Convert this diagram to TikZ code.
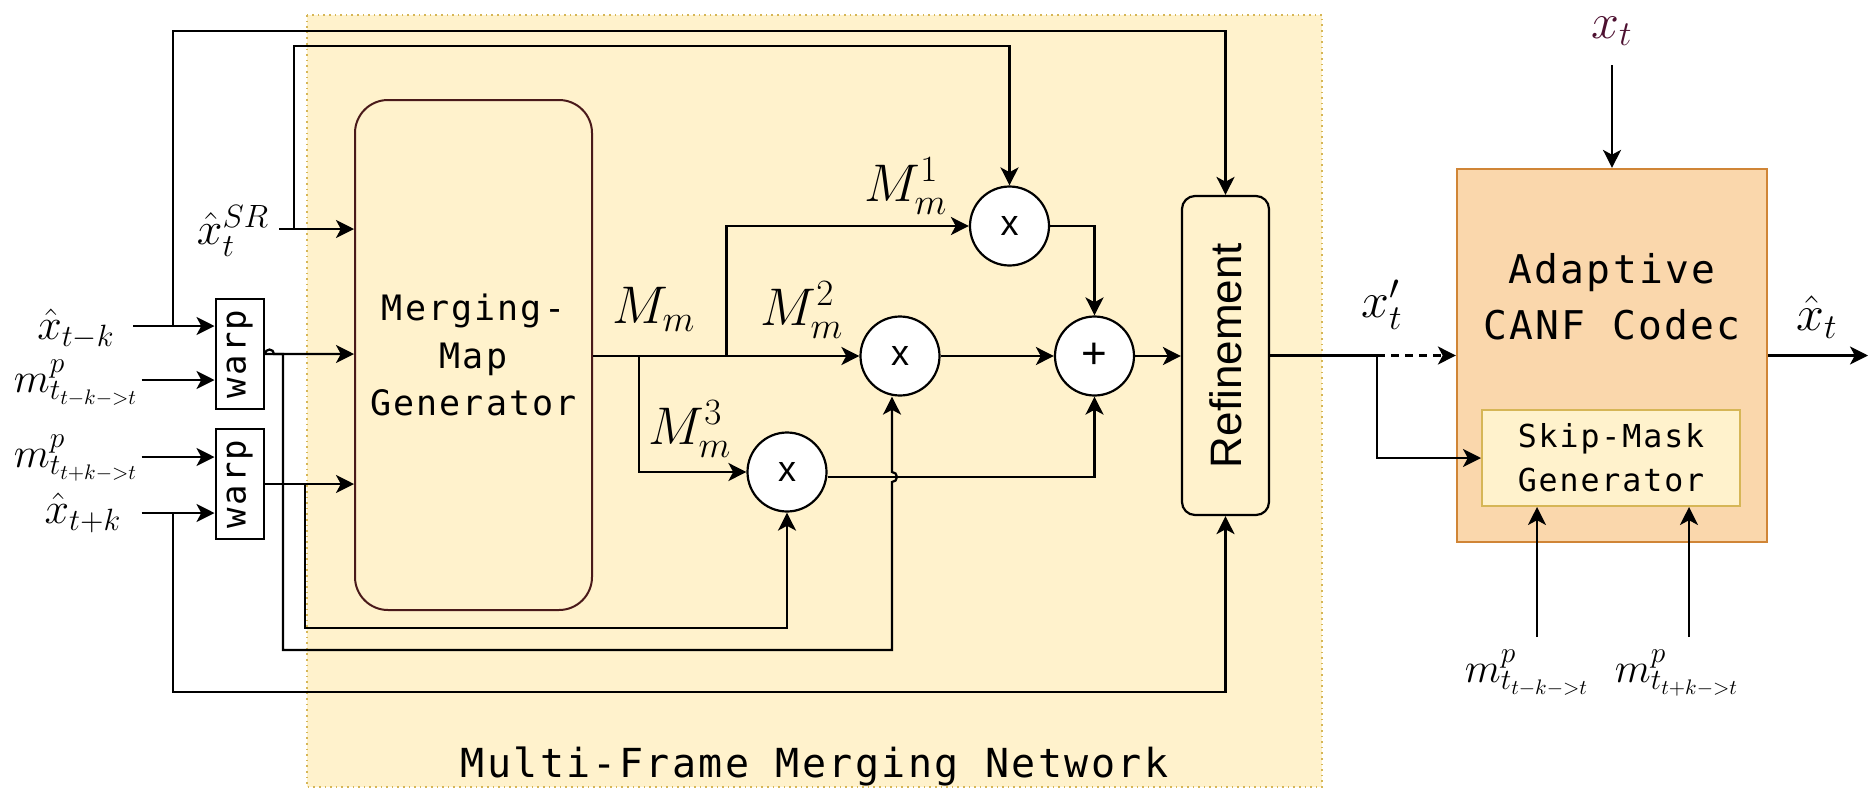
\RequirePackage{fix-cm}
\documentclass[tikz,border=0pt]{standalone}
\usepackage{fontspec}
\newfontfamily\monof[LetterSpace=6]{DejaVu Sans Mono}
\newfontfamily\sansf{Liberation Sans}
\usetikzlibrary{arrows.meta}

\definecolor{regionfill}{HTML}{FFF2CC}
\definecolor{regiondraw}{HTML}{D6B656}
\definecolor{genborder}{HTML}{4A1A1A}
\definecolor{canffill}{HTML}{FAD7AC}
\definecolor{canfdraw}{HTML}{D08536}
\definecolor{xtcol}{HTML}{4D1030}

\tikzset{
  line/.style={line width=1.1pt, draw=black},
  arr/.style={line, -{Stealth[length=9pt,width=9pt,inset=2.4pt]}},
  mlab/.style={inner sep=0pt, font=\fontsize{#1}{#1}\selectfont},
  op/.style={circle, draw, line width=1.1pt, fill=white, minimum size=39.5pt,
    inner sep=0pt, font=\sansf\fontsize{18}{18}\selectfont},
  warpbox/.style={draw, line width=1pt, fill=white, minimum width=24.25pt,
    minimum height=55pt, inner sep=0pt},
  region/.style={fill=regionfill, draw=regiondraw, dotted, line width=0.8pt},
}

\begin{document}
\begin{tikzpicture}[x=0.5pt, y=-0.5pt]
\useasboundingbox (0,0) rectangle (1870,788);

% multi-frame merging network area
\draw[region] (307,15) rectangle (1322,787);
\node[anchor=base, inner sep=0pt, font=\monof\fontsize{20}{20}\selectfont]
  (mfmn) at (814.5,777) {Multi-Frame Merging Network};

% blocks
\node[draw=genborder, line width=1pt, fill=regionfill, rounded corners=16.5pt,
  minimum width=118.5pt, minimum height=255pt, align=center, inner sep=0pt,
  font=\monof\fontsize{17.5}{23.75}\selectfont]
  (gen) at (473.5,355) {Merging-\\Map\\Generator};
\node[warpbox] (warp1) at (239.75,354)
  {\rotatebox{90}{\monof\fontsize{17}{17}\selectfont warp}};
\node[warpbox] (warp2) at (239.75,484)
  {\rotatebox{90}{\monof\fontsize{17}{17}\selectfont warp}};
\node[draw, line width=1.1pt, fill=regionfill, rounded corners=6.5pt,
  minimum width=43.5pt, minimum height=159.5pt, inner sep=0pt]
  (ref) at (1225.5,355.5)
  {\rotatebox{90}{\sansf\fontsize{22}{22}\selectfont Refinement}};

\node[op] (xm1) at (1009.5,226) {x};
\node[op] (xm2) at (900,356) {x};
\node[op] (xm3) at (787,472) {x};
\node[op, font=\sansf\fontsize{22}{22}\selectfont] (add) at (1094.5,356) {+};

\node[draw=canfdraw, line width=1.1pt, fill=canffill, minimum width=155pt,
  minimum height=186.5pt, inner sep=0pt] (canf) at (1612,355.5) {};
\node[align=center, inner sep=0pt, font=\monof\fontsize{19.8}{28}\selectfont]
  (canftxt) at (1612,297) {Adaptive\\CANF Codec};
\node[draw=regiondraw, line width=1pt, fill=regionfill, minimum width=129pt,
  minimum height=48pt, align=center, inner sep=0pt,
  font=\monof\fontsize{15.8}{22}\selectfont]
  (skip) at (1611,458) {Skip-Mask\\Generator};

% labels
\node[mlab=22] (lxtk) at (76,329) {$\hat{x}_{t-k}$};
\node[mlab=21] (lm1) at (76,383) {$m^p_{t_{t-k->t}}$};
\node[mlab=21] (lm2) at (76,458) {$m^p_{t_{t+k->t}}$};
\node[mlab=22] (lxtpk) at (83,513) {$\hat{x}_{t+k}$};
\node[mlab=23] (lsr) at (233,231) {$\hat{x}_t^{SR}$};
\node[mlab=26.5] (lmm) at (654,309) {$M_m$};
\node[mlab=26.5] (lm1m) at (906,186) {$M_m^1$};
\node[mlab=26.5] (lm2m) at (802,310) {$M_m^2$};
\node[mlab=26.5] (lm3m) at (690,429) {$M_m^3$};
\node[mlab=25] (lxp) at (1382,305) {$x'_t$};
\node[mlab=25, text=xtcol] (lxt) at (1612,31) {$x_t$};
\node[mlab=25] (lxh) at (1817,317) {$\hat{x}_t$};
\node[mlab=21] (lb1) at (1527,673) {$m^p_{t_{t-k->t}}$};
\node[mlab=21] (lb2) at (1677,673) {$m^p_{t_{t+k->t}}$};

% connector end points
\coordinate (in1) at (133,326);
\coordinate (in2) at (141.5,380);
\coordinate (in3) at (141.5,457);
\coordinate (in4) at (141.5,513);
\coordinate (insr) at (279,229);
\coordinate (split) at (1377,355.5);
\coordinate (xtin) at (1612,65);
\coordinate (out) at (1868,355.5);
\coordinate (mb1) at (1537,637);
\coordinate (mb2) at (1689,637);

% inputs into the warps and the generator
\draw[arr] (in1) -- (warp1.west |- in1);
\draw[arr] (in2) -- (warp1.west |- in2);
\draw[arr] (in3) -- (warp2.west |- in3);
\draw[arr] (in4) -- (warp2.west |- in4);
\draw[arr] (insr) -- (gen.west |- insr);
\draw[arr] (warp1.east) arc[start angle=180, end angle=360, radius=4.5]
  -- (gen.west |- warp1.east);
\draw[arr] (warp2.east) -- (gen.west |- warp2.east);

% skip connections
\draw[arr] (173,326) -- (173,31) -| (ref.north);
\draw[arr] (294,229) -- (294,46) -| (xm1.north);
\draw[arr] (173,513) -- (173,692) -| (ref.south);
\draw[arr] (305,484) -- (305,628) -| (xm3.south);
\draw[arr] (warp1.east) -- (283,354) -- (283,650) -- (892,650) -- (892,482)
  arc[start angle=90, end angle=-90, radius=5] -- (892,0 |- xm2.south);

% merging maps
\draw[arr] (gen.east |- xm2) -- (xm2.west);
\draw[arr] (726.5,356) |- (xm1.west);
\draw[arr] (639,356) |- (xm3.west);
\draw[arr] (xm1.east) -| (add.north);
\draw[arr] (xm2.east) -- (add.west);
\draw[arr] ([yshift=-2.5pt]xm3.east) -| (add.south);
\draw[arr] (add.east) -- (ref.west |- add.east);

% codec side
\draw[line] (ref.east |- split) -- (split);
\draw[arr, dashed, dash pattern=on 4pt off 3pt] (split) -- (canf.west |- split);
\draw[arr] (split) |- (skip.west);
\draw[arr] (xtin) -- (canf.north);
\draw[arr] (canf.east |- out) -- (out);
\draw[arr] (mb1) -- (mb1 |- skip.south);
\draw[arr] (mb2) -- (mb2 |- skip.south);
\end{tikzpicture}
\end{document}
